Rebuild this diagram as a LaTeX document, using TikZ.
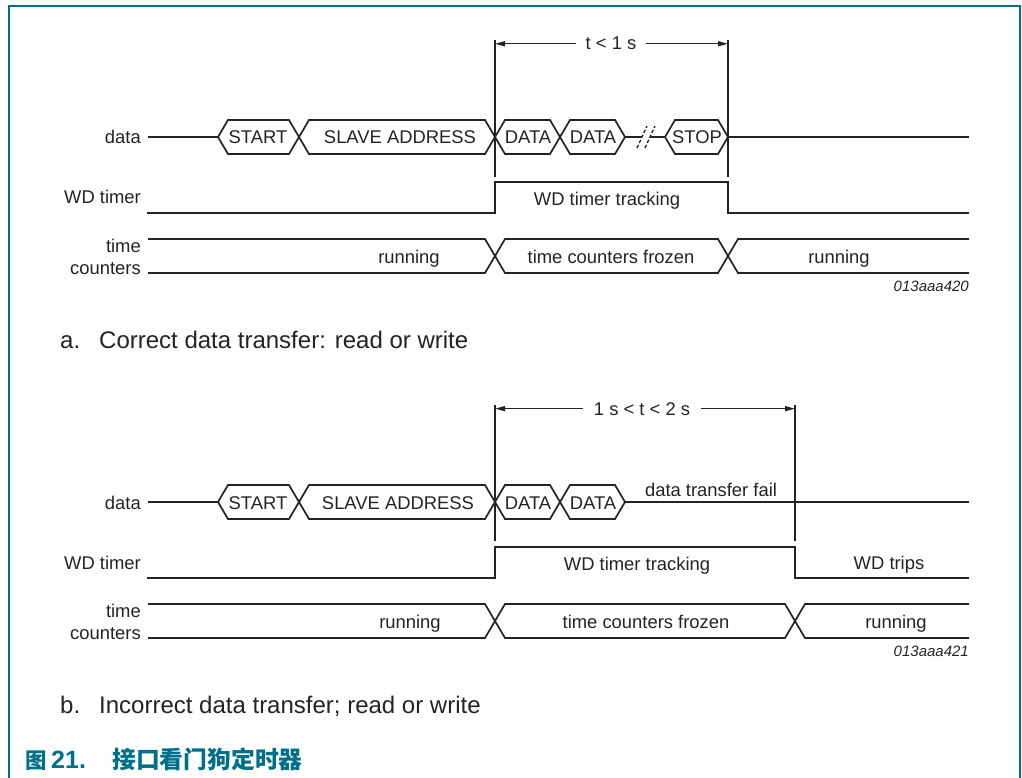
\documentclass[tikz,border=0pt]{standalone}
\usepackage{fontspec}
\setmainfont{Liberation Sans}
\newfontfamily\cjk{Noto Sans CJK SC}
\usetikzlibrary{arrows.meta}
\definecolor{nxpteal}{RGB}{0,112,138}
\definecolor{ink}{RGB}{35,35,35}
\tikzset{
    wave/.style={draw=ink, line width=1.7pt},
    tmark/.style={draw=ink, line width=1.4pt},
    dimarrow/.style={draw=ink, line width=1.3pt, -{Triangle[length=10pt,width=5pt]}},
    brk/.style={draw=ink, line width=1.3pt, dash pattern=on 3.5pt off 2pt},
    lbl/.style={text=ink, inner sep=0pt, anchor=base, font=\fontsize{18.4}{20}\selectfont},
    rowlbl/.style={lbl, anchor=base east},
    spanlbl/.style={lbl, inner xsep=9pt},
    figid/.style={lbl, anchor=base east, font=\fontsize{15}{17}\selectfont\itshape},
    subcap/.style={text=ink, inner sep=0pt, anchor=base west, font=\fontsize{24}{26}\selectfont},
}
\begin{document}
\begin{tikzpicture}[x=1pt, y=-1pt]
    \useasboundingbox (0,0) rectangle (1022,778);
    % frame
    \draw[nxpteal, line width=2.5pt] (9,790) -- (9,6) -- (1020,6) -- (1020,790);

    % a: correct transfer
    \begin{scope}
        \node[rowlbl] (dataa) at (141,144) {data};
        \node[rowlbl] (wda) at (141,204) {WD timer};
        \node[rowlbl] (tma) at (141,252) {time};
        \node[rowlbl] (cnta) at (141,274) {counters};

        \draw[wave] (148,137) -- (218,137);
        \foreach \xa/\xb/\xt/\txt/\nm in {218/299/258/START/sta, 299/495/400/SLAVE ADDRESS/saa,
                495/560/528/DATA/daa, 560/625/593/DATA/dba, 665/728/697/STOP/spa}{
            \draw[wave] (\xa,137) -- (\xa+10,120) -- (\xb-10,120) -- (\xb,137) -- (\xb-10,154) -- (\xa+10,154) -- cycle;
            \node[lbl] (\nm) at (\xt,144) {\txt};
        }
        \draw[wave] (625,137) -- (642,137); \draw[wave] (650,137) -- (665,137);
        \draw[brk] (637,148) -- (647,126); \draw[brk] (645,148) -- (655,126);
        \draw[wave] (728,137) -- (969,137);

        \coordinate (mla) at (495,40); \coordinate (mra) at (728,40);
        \draw[tmark] (mla) -- (495,177); \draw[tmark] (mra) -- (728,177);
        \node[spanlbl] (spa1) at (611,50) {t < 1 s};
        \draw[dimarrow] (spa1.west) -- (spa1.west -| mla);
        \draw[dimarrow] (spa1.east) -- (spa1.east -| mra);

        \draw[wave] (147,213) -- (495,213) -- (495,182) -- (728,182) -- (728,213) -- (969,213);
        \node[lbl] (wdta) at (607,205) {WD timer tracking};

        \draw[wave] (148,239) -- (485,239) -- (505,273) -- (718,273) -- (738,239) -- (969,239);
        \draw[wave] (148,273) -- (485,273) -- (505,239) -- (718,239) -- (738,273) -- (969,273);
        \node[lbl] (run1a) at (409,263) {running};
        \node[lbl] (frza) at (611,263) {time counters frozen};
        \node[lbl] (run2a) at (839,263) {running};

        \node[figid] (ida) at (969,291) {013aaa420};
        \node[subcap] (capa) at (60,348) {a.};
        \node[subcap] (txta) at (99,348) {Correct data transfer: read or write};
    \end{scope}

    % b: incorrect transfer
    \begin{scope}[yshift=-365pt]
        \node[rowlbl] (datab) at (141,144) {data};
        \node[rowlbl] (wdb) at (141,204) {WD timer};
        \node[rowlbl] (tmb) at (141,252) {time};
        \node[rowlbl] (cntb) at (141,274) {counters};

        \draw[wave] (148,137) -- (218,137);
        \foreach \xa/\xb/\xt/\txt/\nm in {218/299/258/START/stb, 299/495/398/SLAVE ADDRESS/sab,
                495/560/528/DATA/dab, 560/625/593/DATA/dbb}{
            \draw[wave] (\xa,137) -- (\xa+10,120) -- (\xb-10,120) -- (\xb,137) -- (\xb-10,154) -- (\xa+10,154) -- cycle;
            \node[lbl] (\nm) at (\xt,144) {\txt};
        }
        \draw[wave] (625,137) -- (969,137);
        \node[lbl] (failb) at (711,131) {data transfer fail};

        \coordinate (mlb) at (495,40); \coordinate (mrb) at (795,40);
        \draw[tmark] (mlb) -- (495,176); \draw[tmark] (mrb) -- (795,176);
        \node[spanlbl, inner xsep=11pt] (spb1) at (642,50) {1 s < t < 2 s};
        \draw[dimarrow] (spb1.west) -- (spb1.west -| mlb);
        \draw[dimarrow] (spb1.east) -- (spb1.east -| mrb);

        \draw[wave] (147,213) -- (495,213) -- (495,182) -- (795,182) -- (795,213) -- (969,213);
        \node[lbl] (wdtb) at (637,205) {WD timer tracking};
        \node[lbl] (tripb) at (889,204) {WD trips};

        \draw[wave] (148,239) -- (485,239) -- (505,273) -- (785,273) -- (805,239) -- (969,239);
        \draw[wave] (148,273) -- (485,273) -- (505,239) -- (785,239) -- (805,273) -- (969,273);
        \node[lbl] (run1b) at (410,263) {running};
        \node[lbl] (frzb) at (646,263) {time counters frozen};
        \node[lbl] (run2b) at (896,263) {running};

        \node[figid] (idb) at (969,291) {013aaa421};
        \node[subcap] (capb) at (60,348) {b.};
        \node[subcap] (txtb) at (99,348) {Incorrect data transfer; read or write};
    \end{scope}

    % figure caption
    \node[anchor=base west, inner sep=0pt, text=nxpteal, font=\cjk\bfseries\fontsize{21.5}{23}\selectfont] (fig) at (25,768) {图};
    \node[anchor=base west, inner sep=0pt, text=nxpteal, font=\bfseries\fontsize{25}{27}\selectfont] (fignum) at (51,768) {21.};
    \node[anchor=base west, inner sep=0pt, text=nxpteal, font=\cjk\bfseries\fontsize{23.8}{25}\selectfont] (figtxt) at (112,768) {接口看门狗定时器};
\end{tikzpicture}
\end{document}
